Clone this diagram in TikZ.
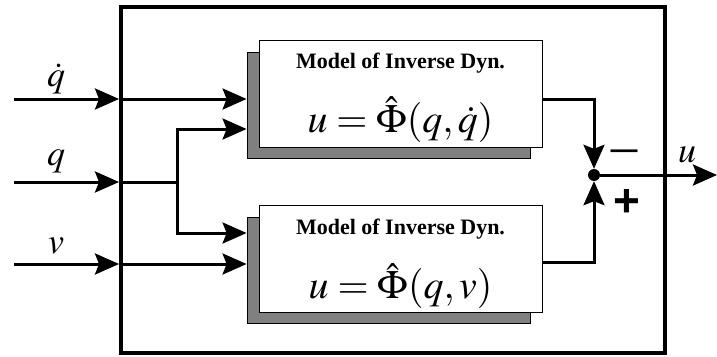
\documentclass[tikz,border=0pt]{standalone}
\usepackage{mathptmx}
\usepackage{fontspec}
\setmainfont{Liberation Serif}
\setsansfont{Liberation Sans}
\usetikzlibrary{arrows.meta,positioning}

\begin{document}
\begin{tikzpicture}[
    x=1pt, y=-1pt,
    frame/.style={rectangle, draw=black, line width=4pt, minimum width=544pt, minimum height=346pt, inner sep=0pt},
    blockshadow/.style={rectangle, draw=black, line width=0.8pt, fill=black!50, minimum width=283pt, minimum height=106pt, inner sep=0pt},
    block/.style={rectangle, draw=black, line width=0.8pt, fill=white, minimum width=283pt, minimum height=107pt, inner sep=0pt},
    title/.style={font=\fontsize{22}{26}\selectfont\bfseries, inner sep=0pt},
    formula/.style={font=\fontsize{40}{44}\selectfont, inner sep=0pt},
    lbl/.style={font=\fontsize{36}{40}\selectfont, inner sep=0pt, anchor=base},
    sign/.style={font=\sffamily\bfseries\fontsize{46}{50}\selectfont, inner sep=0pt},
    sig/.style={line width=3pt},
    arrow/.style={sig, -{Stealth[length=24pt,width=21pt,inset=4pt]}},
    sumdot/.style={circle, fill=black, inner sep=0pt, minimum size=12pt}
]
\useasboundingbox (0,0) rectangle (717,356);

% outer frame
\node[frame] (frame) at (393,180) {};

% the two inverse dynamics models
\node[blockshadow] (shtop) at (388.5,105) {};
\node[block] (invtop) at (400.5,93.5) {};
\node[title] (ttop) at ([yshift=-23.5pt]invtop.north) {Model of Inverse Dyn.};
\node[formula] (ftop) at ([yshift=-80pt]invtop.north) {$u=\hat{\Phi}(q,\dot{q})$};

\node[blockshadow] (shbot) at (388.5,270) {};
\node[block] (invbot) at (400.5,259) {};
\node[title] (tbot) at ([yshift=-24pt]invbot.north) {Model of Inverse Dyn.};
\node[formula] (fbot) at ([yshift=-81pt]invbot.north) {$u=\hat{\Phi}(q,v)$};

% inputs
\coordinate (inqd) at (14,99);
\coordinate (inq) at (14,182);
\coordinate (inv) at (14,264);
\coordinate (qsplit) at (177,182);

\node[lbl] (lqd) at (56,86) {$\dot{q}$};
\node[lbl] (lq) at (56,165) {$q$};
\node[lbl] (lv) at (56,253) {$v$};

\draw[arrow] (inqd) -- (inqd -| frame.west);
\draw[arrow] (inqd -| frame.west) -- (inqd -| shtop.west);

\draw[arrow] (inq) -- (inq -| frame.west);
\draw[sig] (inq -| frame.west) -- (qsplit);
\draw[arrow] (qsplit) |- ([yshift=-24pt]shtop.west);
\draw[arrow] (qsplit) |- ([yshift=37pt]shbot.west);

\draw[arrow] (inv) -- (inv -| frame.west);
\draw[arrow] (inv -| frame.west) -- (inv -| shbot.west);

% summing point and output
\node[sumdot] (sum) at (594,175) {};
\coordinate (yout) at (717,175);

\draw[arrow] (inqd -| invtop.east) -| (sum);
\draw[arrow] ([yshift=-3pt]invbot.east) -| (sum);
\draw[arrow] (sum) -- (yout);

\node[sign, font=\sffamily\bfseries\fontsize{27}{30}\selectfont] (minus) at (624,154) {—};
\node[sign] (plus) at (627,203) {+};
\node[lbl] (lu) at (687,162) {$u$};

\end{tikzpicture}
\end{document}
